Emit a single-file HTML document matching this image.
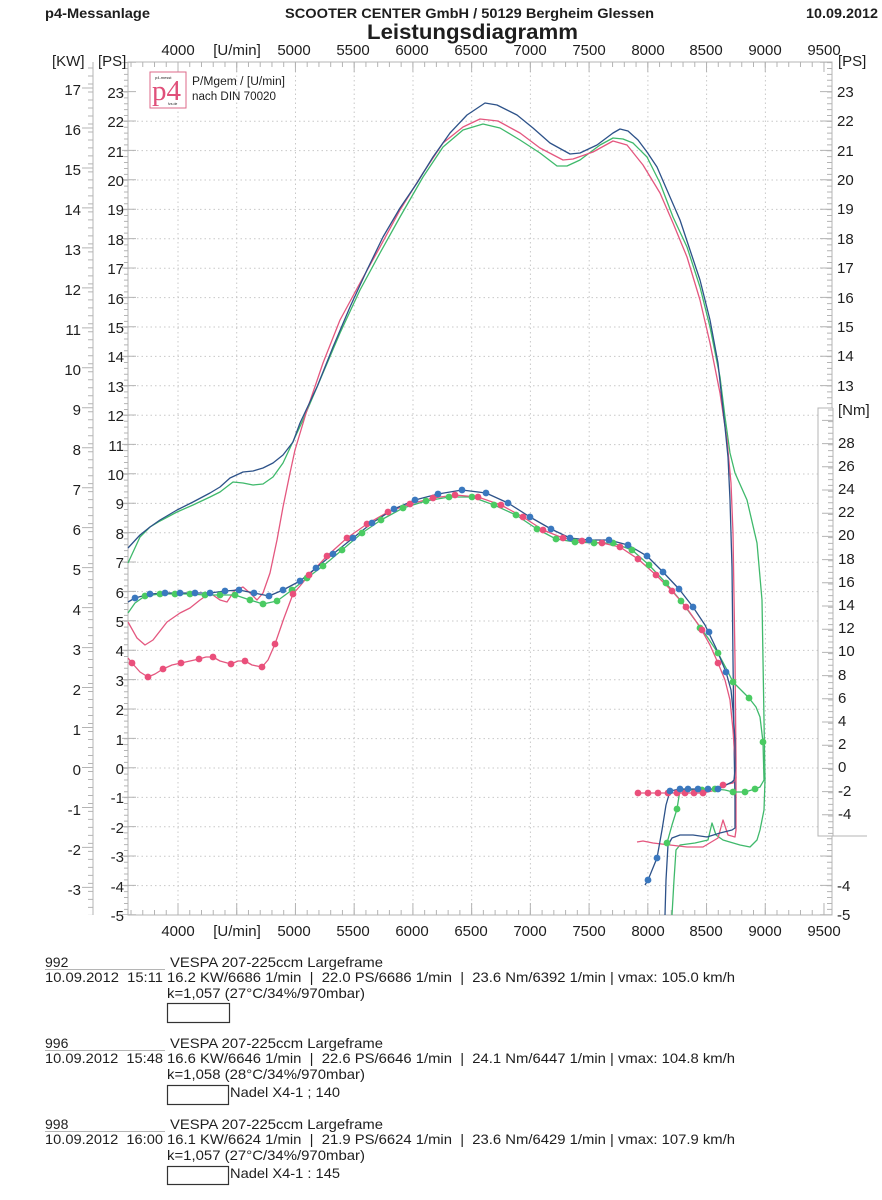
<!DOCTYPE html>
<html><head><meta charset="utf-8"><style>
html,body{margin:0;padding:0;background:#fff;}
svg{display:block;}
text{font-family:"Liberation Sans",Arial,sans-serif;fill:#1e1e1e;}
</style></head><body>
<svg width="882" height="1200" viewBox="0 0 882 1200" xmlns="http://www.w3.org/2000/svg">
<rect width="882" height="1200" fill="#fff"/>
<!-- header -->
<text x="45" y="18" font-size="14" font-weight="bold" textLength="105" lengthAdjust="spacingAndGlyphs">p4-Messanlage</text>
<text x="285" y="18" font-size="14" font-weight="bold" textLength="369" lengthAdjust="spacingAndGlyphs">SCOOTER CENTER GmbH / 50129 Bergheim Glessen</text>
<text x="806" y="18" font-size="14" font-weight="bold" textLength="72" lengthAdjust="spacingAndGlyphs">10.09.2012</text>
<!-- grid -->
<g stroke="#c8c8c8" stroke-width="1" stroke-dasharray="1.5 3" fill="none">
<path d="M128 121.2H832M128 150.6H832M128 180H832M128 209.4H832M128 238.8H832M128 268.2H832M128 297.6H832M128 327H832M128 356.4H832M128 385.8H832M128 415.2H832M128 444.6H832M128 474H832M128 503.4H832M128 532.8H832M128 562.2H832M128 591.6H832M128 621H832M128 650.4H832M128 679.8H832M128 709.2H832M128 738.6H832M128 768H832M128 797.4H832M128 826.8H832M128 856.2H832M128 885.6H832"/>
<path d="M178 62V915M236.7 62V915M295.5 62V915M354.2 62V915M413 62V915M471.7 62V915M530.4 62V915M589.2 62V915M647.9 62V915M706.6 62V915M765.4 62V915"/>
</g>
<!-- frame -->
<g stroke="#b4b4b4" stroke-width="1" fill="none">
<path d="M128 62H832V915H128Z"/>
<line x1="128" y1="64.5" x2="832" y2="64.5" stroke-width="5" stroke-dasharray="1 10.745" stroke-dashoffset="9.225"/>
<line x1="128" y1="67" x2="832" y2="67" stroke-width="10" stroke-dasharray="1 57.725" stroke-dashoffset="9.225"/>
<line x1="128" y1="912.5" x2="832" y2="912.5" stroke-width="5" stroke-dasharray="1 10.745" stroke-dashoffset="9.225"/>
<line x1="128" y1="909" x2="832" y2="909" stroke-width="12" stroke-dasharray="1 57.725" stroke-dashoffset="9.225"/>
<line x1="126" y1="62" x2="126" y2="915" stroke-width="4" stroke-dasharray="1 4.88" stroke-dashoffset="5.78"/>
<line x1="129" y1="62" x2="129" y2="915" stroke-width="14" stroke-dasharray="1 28.4" stroke-dashoffset="29.7"/>
<line x1="93" y1="62" x2="93" y2="915"/>
<line x1="90.5" y1="62" x2="90.5" y2="915" stroke-width="5" stroke-dasharray="1 6.994" stroke-dashoffset="2.5"/>
<line x1="87.5" y1="62" x2="87.5" y2="915" stroke-width="11" stroke-dasharray="1 38.97" stroke-dashoffset="14.47"/>
<line x1="829.5" y1="62" x2="829.5" y2="915" stroke-width="5" stroke-dasharray="1 4.88" stroke-dashoffset="5.78"/>
<line x1="826" y1="62" x2="826" y2="915" stroke-width="12" stroke-dasharray="1 28.4" stroke-dashoffset="29.7"/>
</g>
<!-- Nm box -->
<rect x="818" y="408" width="64" height="428" fill="#fff"/>
<g stroke="#b4b4b4" stroke-width="1" fill="none">
<path d="M833 408H818V836H867"/>
<line x1="833" y1="408" x2="833" y2="836"/>
<line x1="830.5" y1="408" x2="830.5" y2="836" stroke-width="5" stroke-dasharray="1 4.8" stroke-dashoffset="4.3"/>
<line x1="827.5" y1="408" x2="827.5" y2="836" stroke-width="11" stroke-dasharray="1 22.2" stroke-dashoffset="11.3"/>
</g>
<text x="367" y="39" font-size="21" font-weight="bold" textLength="211" lengthAdjust="spacingAndGlyphs">Leistungsdiagramm</text>
<!-- x labels -->
<g font-size="15" text-anchor="middle">
<text x="178" y="55">4000</text><text x="237" y="55">[U/min]</text><text x="294" y="55">5000</text><text x="353" y="55">5500</text><text x="412" y="55">6000</text><text x="471" y="55">6500</text><text x="530" y="55">7000</text><text x="589" y="55">7500</text><text x="648" y="55">8000</text><text x="706" y="55">8500</text><text x="765" y="55">9000</text><text x="824" y="55">9500</text>
<text x="178" y="936">4000</text><text x="237" y="936">[U/min]</text><text x="294" y="936">5000</text><text x="353" y="936">5500</text><text x="412" y="936">6000</text><text x="471" y="936">6500</text><text x="530" y="936">7000</text><text x="589" y="936">7500</text><text x="648" y="936">8000</text><text x="706" y="936">8500</text><text x="765" y="936">9000</text><text x="824" y="936">9500</text>
</g>
<g font-size="15">
<text x="52" y="66">[KW]</text><text x="98" y="66">[PS]</text><text x="838" y="66">[PS]</text><text x="838" y="415">[Nm]</text>
</g>
<g font-size="15" text-anchor="end">
<text x="81" y="95">17</text><text x="81" y="135">16</text><text x="81" y="175">15</text><text x="81" y="215">14</text><text x="81" y="255">13</text><text x="81" y="295">12</text><text x="81" y="335">11</text><text x="81" y="375">10</text><text x="81" y="415">9</text><text x="81" y="455">8</text><text x="81" y="495">7</text><text x="81" y="535">6</text><text x="81" y="575">5</text><text x="81" y="615">4</text><text x="81" y="655">3</text><text x="81" y="695">2</text><text x="81" y="735">1</text><text x="81" y="775">0</text><text x="81" y="815">-1</text><text x="81" y="855">-2</text><text x="81" y="895">-3</text>
</g>
<g font-size="15" text-anchor="end">
<text x="124" y="98">23</text><text x="124" y="127">22</text><text x="124" y="157">21</text><text x="124" y="186">20</text><text x="124" y="215">19</text><text x="124" y="245">18</text><text x="124" y="274">17</text><text x="124" y="304">16</text><text x="124" y="333">15</text><text x="124" y="362">14</text><text x="124" y="392">13</text><text x="124" y="421">12</text><text x="124" y="451">11</text><text x="124" y="480">10</text><text x="124" y="509">9</text><text x="124" y="539">8</text><text x="124" y="568">7</text><text x="124" y="598">6</text><text x="124" y="627">5</text><text x="124" y="656">4</text><text x="124" y="686">3</text><text x="124" y="715">2</text><text x="124" y="745">1</text><text x="124" y="774">0</text><text x="124" y="803">-1</text><text x="124" y="833">-2</text><text x="124" y="862">-3</text><text x="124" y="892">-4</text><text x="124" y="921">-5</text>
</g>
<g font-size="15">
<text x="837" y="97">23</text><text x="837" y="126">22</text><text x="837" y="156">21</text><text x="837" y="185">20</text><text x="837" y="214">19</text><text x="837" y="244">18</text><text x="837" y="273">17</text><text x="837" y="303">16</text><text x="837" y="332">15</text><text x="837" y="361">14</text><text x="837" y="391">13</text><text x="837" y="891">-4</text><text x="837" y="920">-5</text>
</g>
<g font-size="15">
<text x="838" y="448">28</text><text x="838" y="471">26</text><text x="838" y="494">24</text><text x="838" y="517">22</text><text x="838" y="540">20</text><text x="838" y="564">18</text><text x="838" y="587">16</text><text x="838" y="610">14</text><text x="838" y="633">12</text><text x="838" y="656">10</text><text x="838" y="680">8</text><text x="838" y="703">6</text><text x="838" y="726">4</text><text x="838" y="749">2</text><text x="838" y="772">0</text><text x="838" y="796">-2</text><text x="838" y="819">-4</text>
</g>
<!-- logo -->
<rect x="150" y="72" width="36" height="36" fill="#fff" stroke="#de6a8a" stroke-width="1"/>
<text x="155" y="79" font-size="4" fill="#333">p4-messt</text>
<text x="152" y="100" font-size="29" style="font-family:'Liberation Serif',serif;fill:#e0507a">p4</text>
<text x="168" y="105" font-size="3.5" fill="#333">fzs.de</text>
<text x="192" y="85" font-size="11.5" textLength="93" lengthAdjust="spacingAndGlyphs">P/Mgem / [U/min]</text>
<text x="192" y="100" font-size="11.5" textLength="84" lengthAdjust="spacingAndGlyphs">nach DIN 70020</text>
<!-- curves -->
<g fill="none" stroke-width="1.3" stroke-linejoin="round">
<polyline stroke="#3fb96b" points="128,563 140,537 150,527 160,521 177,512 193,505 210,497 220,492 233,482 243,483 253,485 263,484 273,477 283,463 290,448 303,420 320,380 340,333 360,290 380,253 400,217 423,177 443,147 463,130 483,124 500,128 520,140 540,153 557,166 567,166 580,160 600,145 613,138 623,139 633,143 647,157 660,183 673,217 687,247 700,287 710,327 720,377 725,417 730,453 735,473 747,500 757,543 762,600 763,660 764,720 765,780 764,810 760,830 757,840 750,847 740,845 723,840 716,835 712,823 708,840 695,843 680,845 676,850 674,880 672,915"/>
<polyline stroke="#e4577f" points="128,622 137,638 145,645 153,640 167,622 180,613 190,608 200,600 210,593 220,600 227,602 235,590 243,587 250,593 257,600 263,593 270,573 277,540 283,507 290,473 295,450 307,410 323,363 340,320 360,283 380,247 400,210 423,173 443,143 463,127 480,119 498,121 520,133 540,148 563,160 573,159 593,152 613,141 627,145 643,165 660,193 673,223 687,257 700,300 710,343 720,393 727,440 731,483 733,533 735,660 736,760 736,830 735,837 728,835 723,820 718,838 703,847 687,847 670,845 653,843 643,841 637,842"/>
<polyline stroke="#2d5289" points="128,548 140,535 150,527 160,520 177,510 193,502 210,493 220,487 230,478 243,472 253,471 263,468 273,463 283,455 293,442 300,423 317,387 333,347 350,307 367,270 383,237 400,208 417,183 433,157 450,133 467,115 485,103 497,105 517,115 533,128 550,143 570,154 580,153 597,145 613,133 620,129 628,131 638,140 647,152 657,167 670,197 680,220 690,250 700,280 710,320 718,363 722,400 725,427 728,457 730,500 732,567 733,660 734,740 735,800 735,828 732,830 720,833 707,837 693,835 680,835 672,838 668,845 666,880 665,915"/>
<polyline stroke="#3fb96b" points="128,613 135,603 145,596 160,594 175,594 190,594 205,595 220,595 235,595 250,600 263,604 277,601 292,590 307,578 323,566 342,550 362,533 381,520 403,508 426,501 449,497 472,497 494,505 516,515 537,529 556,539 575,542 594,543 613,543 632,550 649,565 666,583 681,601 695,620 708,638 718,653 726,668 733,682 741,690 749,698 756,707 760,717 763,742 764,780 760,787 755,789 745,792 733,792 725,790 715,789 702,790 690,790 680,790 677,809 672,825 667,843"/>
<polyline stroke="#e4577f" points="128,658 132,663 140,672 148,677 155,674 163,669 172,665 181,663 190,661 199,659 206,657 213,657 220,661 231,664 238,661 245,661 252,665 262,667 268,660 275,644 284,618 293,594 300,586 309,575 327,556 347,538 367,524 388,512 410,504 433,498 455,495 478,497 501,505 523,517 543,530 563,538 582,541 602,543 620,547 638,559 656,575 672,591 686,607 700,627 710,645 718,663 725,680 730,700 733,730 735,760 736,778 733,783 723,785 712,791 703,793 694,793 685,793 677,793 668,793 658,793 648,793 638,793"/>
<polyline stroke="#2d5289" points="128,602 135,598 150,594 165,593 180,593 195,593 210,593 225,591 239,590 254,593 269,596 283,590 300,581 316,568 333,554 353,538 372,523 394,509 415,500 438,494 462,490 486,493 508,503 530,517 551,529 570,538 589,540 609,540 628,545 647,556 663,572 679,589 693,607 705,625 716,648 726,672 731,690 733,710 735,740 735,770 734,780 732,782 726,785 718,789 708,789 698,789 688,789 680,789 670,791 666,805 662,830 657,858 648,880 645,885"/>
</g>
<!-- markers -->
<g fill="#4acb62">
<circle cx="145" cy="596" r="3.4"/><circle cx="160" cy="594" r="3.4"/><circle cx="175" cy="594" r="3.4"/><circle cx="190" cy="594" r="3.4"/><circle cx="205" cy="595" r="3.4"/><circle cx="220" cy="595" r="3.4"/><circle cx="235" cy="595" r="3.4"/><circle cx="250" cy="600" r="3.4"/><circle cx="263" cy="604" r="3.4"/><circle cx="277" cy="601" r="3.4"/><circle cx="292" cy="590" r="3.4"/><circle cx="307" cy="578" r="3.4"/><circle cx="323" cy="566" r="3.4"/><circle cx="342" cy="550" r="3.4"/><circle cx="362" cy="533" r="3.4"/><circle cx="381" cy="520" r="3.4"/><circle cx="403" cy="508" r="3.4"/><circle cx="426" cy="501" r="3.4"/><circle cx="449" cy="497" r="3.4"/><circle cx="472" cy="497" r="3.4"/><circle cx="494" cy="505" r="3.4"/><circle cx="516" cy="515" r="3.4"/><circle cx="537" cy="529" r="3.4"/><circle cx="556" cy="539" r="3.4"/><circle cx="575" cy="542" r="3.4"/><circle cx="594" cy="543" r="3.4"/><circle cx="613" cy="543" r="3.4"/><circle cx="632" cy="550" r="3.4"/><circle cx="649" cy="565" r="3.4"/><circle cx="666" cy="583" r="3.4"/><circle cx="681" cy="601" r="3.4"/><circle cx="700" cy="628" r="3.4"/><circle cx="718" cy="653" r="3.4"/><circle cx="733" cy="682" r="3.4"/><circle cx="749" cy="698" r="3.4"/><circle cx="763" cy="742" r="3.4"/><circle cx="755" cy="789" r="3.4"/><circle cx="745" cy="792" r="3.4"/><circle cx="733" cy="792" r="3.4"/><circle cx="715" cy="789" r="3.4"/><circle cx="702" cy="790" r="3.4"/><circle cx="677" cy="809" r="3.4"/><circle cx="667" cy="843" r="3.4"/>
</g>
<g fill="#ea4f7b">
<circle cx="132" cy="663" r="3.4"/><circle cx="148" cy="677" r="3.4"/><circle cx="163" cy="669" r="3.4"/><circle cx="181" cy="663" r="3.4"/><circle cx="199" cy="659" r="3.4"/><circle cx="213" cy="657" r="3.4"/><circle cx="231" cy="664" r="3.4"/><circle cx="245" cy="661" r="3.4"/><circle cx="262" cy="667" r="3.4"/><circle cx="275" cy="644" r="3.4"/><circle cx="293" cy="594" r="3.4"/><circle cx="309" cy="575" r="3.4"/><circle cx="327" cy="556" r="3.4"/><circle cx="347" cy="538" r="3.4"/><circle cx="367" cy="524" r="3.4"/><circle cx="388" cy="512" r="3.4"/><circle cx="410" cy="504" r="3.4"/><circle cx="433" cy="498" r="3.4"/><circle cx="455" cy="495" r="3.4"/><circle cx="478" cy="497" r="3.4"/><circle cx="501" cy="505" r="3.4"/><circle cx="523" cy="517" r="3.4"/><circle cx="543" cy="530" r="3.4"/><circle cx="563" cy="538" r="3.4"/><circle cx="582" cy="541" r="3.4"/><circle cx="602" cy="543" r="3.4"/><circle cx="620" cy="547" r="3.4"/><circle cx="638" cy="559" r="3.4"/><circle cx="656" cy="575" r="3.4"/><circle cx="672" cy="591" r="3.4"/><circle cx="686" cy="607" r="3.4"/><circle cx="702" cy="630" r="3.4"/><circle cx="718" cy="663" r="3.4"/><circle cx="723" cy="785" r="3.4"/><circle cx="703" cy="793" r="3.4"/><circle cx="694" cy="793" r="3.4"/><circle cx="685" cy="793" r="3.4"/><circle cx="677" cy="793" r="3.4"/><circle cx="668" cy="793" r="3.4"/><circle cx="658" cy="793" r="3.4"/><circle cx="648" cy="793" r="3.4"/><circle cx="638" cy="793" r="3.4"/>
</g>
<g fill="#3a78bf">
<circle cx="135" cy="598" r="3.4"/><circle cx="150" cy="594" r="3.4"/><circle cx="165" cy="593" r="3.4"/><circle cx="180" cy="593" r="3.4"/><circle cx="195" cy="593" r="3.4"/><circle cx="210" cy="593" r="3.4"/><circle cx="225" cy="591" r="3.4"/><circle cx="239" cy="590" r="3.4"/><circle cx="254" cy="593" r="3.4"/><circle cx="269" cy="596" r="3.4"/><circle cx="283" cy="590" r="3.4"/><circle cx="300" cy="581" r="3.4"/><circle cx="316" cy="568" r="3.4"/><circle cx="333" cy="554" r="3.4"/><circle cx="353" cy="538" r="3.4"/><circle cx="372" cy="523" r="3.4"/><circle cx="394" cy="509" r="3.4"/><circle cx="415" cy="500" r="3.4"/><circle cx="438" cy="494" r="3.4"/><circle cx="462" cy="490" r="3.4"/><circle cx="486" cy="493" r="3.4"/><circle cx="508" cy="503" r="3.4"/><circle cx="530" cy="517" r="3.4"/><circle cx="551" cy="529" r="3.4"/><circle cx="570" cy="538" r="3.4"/><circle cx="589" cy="540" r="3.4"/><circle cx="609" cy="540" r="3.4"/><circle cx="628" cy="545" r="3.4"/><circle cx="647" cy="556" r="3.4"/><circle cx="663" cy="572" r="3.4"/><circle cx="679" cy="589" r="3.4"/><circle cx="693" cy="607" r="3.4"/><circle cx="709" cy="632" r="3.4"/><circle cx="726" cy="672" r="3.4"/><circle cx="718" cy="789" r="3.4"/><circle cx="708" cy="789" r="3.4"/><circle cx="698" cy="789" r="3.4"/><circle cx="688" cy="789" r="3.4"/><circle cx="680" cy="789" r="3.4"/><circle cx="670" cy="791" r="3.4"/><circle cx="657" cy="858" r="3.4"/><circle cx="648" cy="880" r="3.4"/>
</g>
<!-- legend block -->
<g font-size="14">
<text x="45" y="967">992</text>
<text x="170" y="967" textLength="213" lengthAdjust="spacingAndGlyphs">VESPA 207-225ccm Largeframe</text>
<text x="45" y="982" textLength="118" lengthAdjust="spacingAndGlyphs">10.09.2012&#160;&#160;15:11</text>
<text x="167" y="982" textLength="568" lengthAdjust="spacingAndGlyphs">16.2 KW/6686 1/min&#160;&#160;|&#160;&#160;22.0 PS/6686 1/min&#160;&#160;|&#160;&#160;23.6 Nm/6392 1/min | vmax: 105.0 km/h</text>
<text x="167" y="998" textLength="198" lengthAdjust="spacingAndGlyphs">k=1,057 (27°C/34%/970mbar)</text>

<text x="45" y="1048">996</text>
<text x="170" y="1048" textLength="213" lengthAdjust="spacingAndGlyphs">VESPA 207-225ccm Largeframe</text>
<text x="45" y="1063" textLength="118" lengthAdjust="spacingAndGlyphs">10.09.2012&#160;&#160;15:48</text>
<text x="167" y="1063" textLength="568" lengthAdjust="spacingAndGlyphs">16.6 KW/6646 1/min&#160;&#160;|&#160;&#160;22.6 PS/6646 1/min&#160;&#160;|&#160;&#160;24.1 Nm/6447 1/min | vmax: 104.8 km/h</text>
<text x="167" y="1079" textLength="198" lengthAdjust="spacingAndGlyphs">k=1,058 (28°C/34%/970mbar)</text>
<text x="230" y="1097" textLength="110" lengthAdjust="spacingAndGlyphs">Nadel X4-1 ; 140</text>

<text x="45" y="1129">998</text>
<text x="170" y="1129" textLength="213" lengthAdjust="spacingAndGlyphs">VESPA 207-225ccm Largeframe</text>
<text x="45" y="1144" textLength="118" lengthAdjust="spacingAndGlyphs">10.09.2012&#160;&#160;16:00</text>
<text x="167" y="1144" textLength="568" lengthAdjust="spacingAndGlyphs">16.1 KW/6624 1/min&#160;&#160;|&#160;&#160;21.9 PS/6624 1/min&#160;&#160;|&#160;&#160;23.6 Nm/6429 1/min | vmax: 107.9 km/h</text>
<text x="167" y="1160" textLength="198" lengthAdjust="spacingAndGlyphs">k=1,057 (27°C/34%/970mbar)</text>
<text x="230" y="1178" textLength="110" lengthAdjust="spacingAndGlyphs">Nadel X4-1 : 145</text>
</g>
<g stroke="#b5b5b5" stroke-width="1">
<line x1="45" y1="969.5" x2="165" y2="969.5"/>
<line x1="45" y1="1050.5" x2="165" y2="1050.5"/>
<line x1="45" y1="1131.5" x2="165" y2="1131.5"/>
</g>
<g fill="none" stroke="#333" stroke-width="1.2">
<rect x="167.5" y="1003.5" width="62" height="19"/>
<rect x="167.5" y="1085.5" width="61" height="19"/>
<rect x="167.5" y="1166.5" width="61" height="18"/>
</g>
</svg>
</body></html>
